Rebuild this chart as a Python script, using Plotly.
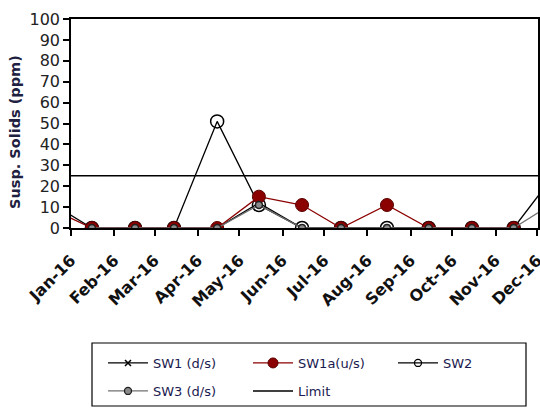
import plotly.graph_objects as go

# ---- data ----
dates = ['2015-12-15', '2016-01-16', '2016-02-16', '2016-03-15', '2016-04-15',
         '2016-05-15', '2016-06-15', '2016-07-13', '2016-08-15', '2016-09-14',
         '2016-10-15', '2016-11-14', '2016-12-15']
sw1 = [13, 0, 0, 0, 0, 12, 0, 0, 0, 0, 0, 0, 27]
sw1a = [10, 0, 0, 0, 0, 15, 11, 0, 11, 0, 0, 0, None]
sw2 = [None, 0, 0, 0, 51, 11, 0, 0, 0, 0, 0, 0, None]
sw3 = [None, 0, 0, 0, 0, 11, 0, 0, 0, 0, 0, 0, 13]
limit_dates = ['2015-12-01', '2017-01-01']
limit_vals = [25, 25]
y_ticks = [0, 10, 20, 30, 40, 50, 60, 70, 80, 90, 100]

W, H = 540, 409
L, R, T, B = 71, 538, 19, 228
pw, ph = R - L, B - T


def px(x):
    return (x - L) / pw


def py(y):
    return (B - y) / ph


RED = '#8B0000'
GREY = '#707070'
fig = go.Figure()

# data traces (drawing order: SW2 underneath so the red markers cover it)
fig.add_trace(go.Scatter(
    x=dates, y=sw2, mode='lines+markers', showlegend=False,
    line=dict(color='black', width=1.3),
    marker=dict(symbol='circle-open', size=13, color='black', line=dict(width=1.5))))
fig.add_trace(go.Scatter(
    x=dates, y=sw1, mode='lines+markers', showlegend=False,
    line=dict(color='black', width=1.3),
    marker=dict(symbol='x-thin', size=6, color='black', line=dict(width=1.5, color='black'))))
fig.add_trace(go.Scatter(
    x=dates, y=sw1a, mode='lines+markers', showlegend=False,
    line=dict(color=RED, width=1.3),
    marker=dict(symbol='circle', size=13, color=RED, line=dict(width=1, color='#5a0000'))))
fig.add_trace(go.Scatter(
    x=dates, y=sw3, mode='lines+markers', showlegend=False,
    line=dict(color=GREY, width=1.3),
    marker=dict(symbol='circle', size=7, color='#8a8a8a', line=dict(width=1.5, color='#202020'))))
fig.add_trace(go.Scatter(
    x=limit_dates, y=limit_vals, mode='lines', showlegend=False,
    line=dict(color='black', width=1.5)))

# legend entries (one small legend per entry for exact placement)
leg_items = [
    ('SW1 (d/s)', 'legend', dict(color='black', width=1.3),
     dict(symbol='x-thin', size=6, color='black', line=dict(width=1.5, color='black'))),
    ('SW1a(u/s)', 'legend2', dict(color=RED, width=1.3),
     dict(symbol='circle', size=10, color=RED, line=dict(width=1, color='#5a0000'))),
    ('SW2', 'legend3', dict(color='black', width=1.3),
     dict(symbol='circle-open', size=7, color='black', line=dict(width=1.3))),
    ('SW3 (d/s)', 'legend4', dict(color=GREY, width=1.3),
     dict(symbol='circle', size=7, color='#8a8a8a', line=dict(width=1.3, color='#202020'))),
]
for name, lg, ln, mk in leg_items:
    fig.add_trace(go.Scatter(x=[None], y=[None], name=name, mode='lines+markers',
                             legend=lg, line=ln, marker=mk))
fig.add_trace(go.Scatter(x=[None], y=[None], name='Limit', mode='lines',
                         legend='legend5', line=dict(color='black', width=1.5)))

legfont = dict(family='DejaVu Sans', size=13, color='#1a1a50')
leg_pos = {'legend': (103, 348), 'legend2': (248, 348), 'legend3': (393, 348),
           'legend4': (103, 376), 'legend5': (248, 376)}
legends = {}
for k, (lx, ly) in leg_pos.items():
    legends[k] = dict(orientation='h', x=px(lx), y=py(ly), xanchor='left', yanchor='top',
                      itemwidth=40, bgcolor='rgba(0,0,0,0)', borderwidth=0, font=legfont)

fig.update_layout(
    width=W, height=H,
    margin=dict(l=L, r=W - R, t=T, b=H - B, autoexpand=False),
    paper_bgcolor='white', plot_bgcolor='white',
    showlegend=True,
    xaxis=dict(
        type='date', range=['2016-01-01', '2016-12-01 12:00'],
        tick0='2016-01-01', dtick='M1', tickformat='%b-%y', tickangle=-45,
        ticks='outside', ticklen=6, tickwidth=1.5, tickcolor='black',
        showline=True, linecolor='black', linewidth=1.5, mirror=True,
        showgrid=False, zeroline=False, automargin=False, ticklabelstandoff=9,
        ticklabeloverflow='allow',
        tickfont=dict(family='DejaVu Sans', size=16, color='#111111', weight='bold')),
    yaxis=dict(
        range=[0, 100], tickvals=y_ticks,
        ticks='outside', ticklen=6, tickwidth=1.5, tickcolor='black',
        showline=True, linecolor='black', linewidth=1.5, mirror=True,
        showgrid=False, zeroline=False, automargin=False,
        ticksuffix='\u2002',
        tickfont=dict(family='DejaVu Sans', size=16, color='#222222')),
    shapes=[dict(type='rect', xref='paper', yref='paper',
                 x0=px(92), x1=px(526), y0=py(406), y1=py(343),
                 line=dict(color='black', width=1.2), fillcolor='rgba(0,0,0,0)')],
    annotations=[dict(text='<b>Susp. Solids (ppm)</b>', textangle=-90,
                      xref='paper', yref='paper', x=px(15), y=py(132),
                      xanchor='center', yanchor='middle', showarrow=False,
                      font=dict(family='DejaVu Sans', size=14.5, color='#202040'))],
    **legends,
)

fig.write_html('out.html')
